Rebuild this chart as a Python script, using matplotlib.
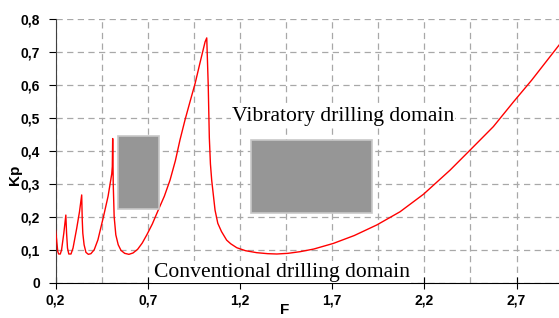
import matplotlib
matplotlib.use("Agg")
import matplotlib.pyplot as plt
from matplotlib.patches import Rectangle
from matplotlib.ticker import FixedLocator

# stability curve Kp(F)
F = [0.200, 0.206, 0.212, 0.217, 0.226, 0.233, 0.245, 0.256, 0.260, 0.265,
     0.272, 0.284, 0.295, 0.315, 0.330, 0.342, 0.345, 0.348, 0.355, 0.365,
     0.378, 0.392, 0.410, 0.430, 0.460, 0.485, 0.505, 0.508, 0.510, 0.513,
     0.518, 0.527, 0.540, 0.555, 0.575, 0.598, 0.620, 0.645, 0.670, 0.695,
     0.725, 0.757, 0.790, 0.821, 0.850, 0.875, 0.902, 0.930, 0.957, 0.985,
     1.011, 1.020, 1.028, 1.034, 1.040, 1.047, 1.065, 1.080, 1.100, 1.128,
     1.150, 1.183, 1.230, 1.291, 1.350, 1.400, 1.460, 1.526, 1.600, 1.706,
     1.820, 1.942, 2.068, 2.195, 2.339, 2.448, 2.574, 2.683, 2.782, 2.930]
Kp = [0.160, 0.130, 0.095, 0.087, 0.087, 0.100, 0.150, 0.205, 0.150, 0.105,
      0.087, 0.087, 0.105, 0.165, 0.215, 0.266, 0.190, 0.150, 0.115, 0.092,
      0.086, 0.088, 0.100, 0.130, 0.200, 0.262, 0.330, 0.352, 0.437, 0.300,
      0.200, 0.145, 0.115, 0.098, 0.089, 0.086, 0.090, 0.101, 0.120, 0.145,
      0.178, 0.220, 0.262, 0.311, 0.370, 0.433, 0.493, 0.550, 0.604, 0.670,
      0.730, 0.742, 0.600, 0.440, 0.360, 0.310, 0.220, 0.180, 0.155, 0.129,
      0.118, 0.106, 0.097, 0.091, 0.088, 0.087, 0.089, 0.094, 0.102, 0.119,
      0.143, 0.175, 0.215, 0.268, 0.341, 0.402, 0.473, 0.548, 0.614, 0.720]

# grey boxes (F0, F1, Kp0, Kp1)
boxes = [(0.541, 0.762, 0.222, 0.445),
         (1.259, 1.916, 0.212, 0.432)]

xticks = [0.2, 0.7, 1.2, 1.7, 2.2, 2.7]
xgrid = [0.45, 0.95, 1.45, 1.95, 2.45]
yticks = [0, 0.1, 0.2, 0.3, 0.4, 0.5, 0.6, 0.7, 0.8]

def comma(v):
    s = ('%.1f' % v).replace('.', ',')
    return '0' if s == '0,0' else s

fig = plt.figure(figsize=(5.59, 3.18), dpi=100)
ax = fig.add_axes([0.0993, 0.111, 0.9007, 0.830])

ax.plot(F, Kp, '-', c='#ff0000', linewidth=1.0, zorder=3)

for f0, f1, k0, k1 in boxes:
    ax.add_patch(Rectangle((f0, k0), f1 - f0, k1 - k0, facecolor='#969696',
                           edgecolor='#c8c8c8', linewidth=1.2, zorder=4))

ax.set_xlim(0.2, 2.93)
ax.set_ylim(0, 0.8)
ax.set_xticks(xticks)
ax.set_xticklabels([comma(v) for v in xticks])
ax.set_yticks(yticks)
ax.set_yticklabels([comma(v) for v in yticks])
ax.xaxis.set_minor_locator(FixedLocator(xgrid))

gridstyle = dict(color='#a8a8a8', linestyle=(0, (5, 3.5)), linewidth=0.9)
ax.grid(True, which='major', axis='y', **gridstyle)
ax.grid(True, which='both', axis='x', **gridstyle)
ax.set_axisbelow(True)

for s in ['top', 'right']:
    ax.spines[s].set_visible(False)
ax.spines['left'].set_color('#404040')
ax.spines['bottom'].set_color('#000000')

tickfont = dict(family='Liberation Sans', weight='bold', size=10)
for lab in ax.get_xticklabels() + ax.get_yticklabels():
    lab.set_fontproperties(tickfont)
ax.tick_params(axis='x', which='major', direction='inout', length=8, pad=4)
ax.tick_params(axis='x', which='minor', length=0)
ax.tick_params(axis='y', direction='out', length=5, pad=6)

serif = dict(family='Liberation Serif', size=15.6)
ax.text(1.759, 0.505, 'Vibratory drilling domain', ha='center', va='center',
        bbox=dict(facecolor='white', edgecolor='none', pad=1), zorder=5, **serif)
ax.text(1.426, 0.032, 'Conventional drilling domain', ha='center', va='center',
        bbox=dict(facecolor='white', edgecolor='none', pad=1), zorder=5, **serif)

fig.text(15 / 559, 1 - 175 / 318, 'Kp', rotation=90, ha='center', va='center',
         family='Liberation Sans', weight='bold', size=11)
fig.text(285 / 559, 0.5 / 318, 'F', ha='center', va='bottom',
         family='Liberation Sans', weight='bold', size=11)

plt.savefig('out.png', dpi=100)
